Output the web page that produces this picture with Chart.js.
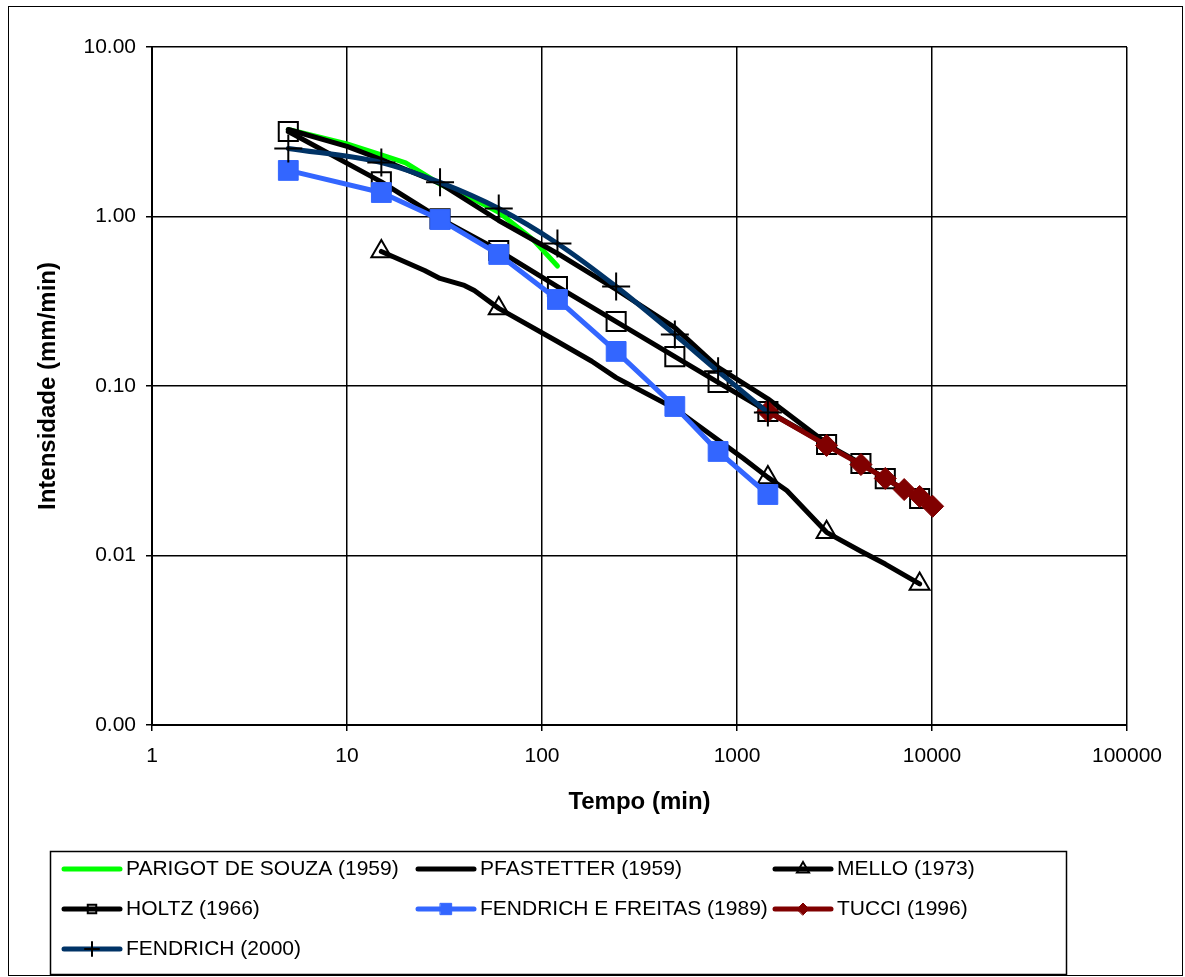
<!DOCTYPE html>
<html>
<head>
<meta charset="utf-8">
<title>Intensidade x Tempo</title>
<script src="https://cdn.jsdelivr.net/npm/chart.js@4.4.0/dist/chart.umd.min.js"></script>
<style>
  body { margin: 0; background: #fff; }
  canvas { display: block; }
</style>
</head>
<body>
<canvas id="idfChart" width="1185" height="977"></canvas>
<script>
// tempo (min) e intensidade (mm/min) de cada equacao
const parigotTempo = [5, 10, 15, 20, 30, 45, 60, 90, 120];
const parigotInt = [3.26, 2.68, 2.31, 2.07, 1.55, 1.26, 1.06, 0.73, 0.51];

const pfastetterTempo = [5, 10, 15, 30, 60, 120, 240, 480, 800, 1440, 2880];
const pfastetterInt = [3.26, 2.59, 2.17, 1.566, 0.947, 0.605, 0.371, 0.221, 0.129, 0.084, 0.046];

const melloTempo = [15, 25, 30, 40, 45, 60, 120, 180, 240, 480, 720, 1080, 1440, 1800, 2880, 4320, 5760, 8640];
const melloInt = [0.622, 0.48, 0.431, 0.392, 0.366, 0.287, 0.183, 0.14, 0.112, 0.0736, 0.0525, 0.0373, 0.0289, 0.0242, 0.0137, 0.0106, 0.0089, 0.0068];
const melloMarcados = [15, 60, 1440, 2880, 8640];

const holtzTempo = [5, 15, 30, 60, 120, 240, 480, 800, 1440, 2880, 4320, 5760, 8640];
const holtzInt = [3.17, 1.6, 0.97, 0.63, 0.386, 0.24, 0.149, 0.105, 0.0707, 0.0452, 0.0349, 0.0284, 0.0217];

const freitasTempo = [5, 15, 30, 60, 120, 240, 480, 800, 1440];
const freitasInt = [1.87, 1.385, 0.96, 0.597, 0.324, 0.16, 0.0757, 0.0411, 0.0229];

const tucciTempo = [1440, 2880, 4320, 5760, 7200, 8640, 10080];
const tucciInt = [0.0707, 0.0446, 0.0344, 0.0285, 0.0245, 0.0223, 0.0195];

const fendrichTempo = [5, 15, 30, 60, 120, 240, 480, 800, 1440];
const fendrichInt = [2.52, 2.08, 1.59, 1.115, 0.693, 0.386, 0.201, 0.122, 0.0698];

// eixos
const xTicks = [1, 10, 100, 1000, 10000, 100000];
const xTickLabels = ['1', '10', '100', '1000', '10000', '100000'];
const yTicks = [0.001, 0.01, 0.1, 1, 10];
const yTickLabels = ['0.00', '0.01', '0.10', '1.00', '10.00'];

const fonte = 'Liberation Sans, Arial, sans-serif';

function pares(tempo, valores) {
    return tempo.map((t, i) => ({ x: t, y: valores[i] }));
}

const datasets = [
    {
        label: 'PARIGOT DE SOUZA (1959)',
        data: pares(parigotTempo, parigotInt),
        borderColor: '#00ff00',
        borderWidth: 5,
        pointRadius: 0,
        legendRadius: 0
    },
    {
        label: 'PFASTETTER (1959)',
        data: pares(pfastetterTempo, pfastetterInt),
        borderColor: '#000000',
        borderWidth: 5,
        pointRadius: 0,
        legendRadius: 0
    },
    {
        label: 'MELLO (1973)',
        data: pares(melloTempo, melloInt),
        borderColor: '#000000',
        borderWidth: 5,
        pointStyle: 'triangle',
        pointRadius: (c) => (c.raw && melloMarcados.includes(c.raw.x)) ? 11.5 : 0,
        pointBackgroundColor: 'rgba(0,0,0,0)',
        pointBorderColor: '#000000',
        pointBorderWidth: 2,
        legendRadius: 7
    },
    {
        label: 'HOLTZ (1966)',
        data: pares(holtzTempo, holtzInt),
        borderColor: '#000000',
        borderWidth: 5,
        pointStyle: 'rect',
        pointRadius: 13.5,
        pointBackgroundColor: 'rgba(0,0,0,0)',
        pointBorderColor: '#000000',
        pointBorderWidth: 2,
        legendRadius: 6
    },
    {
        label: 'FENDRICH E FREITAS (1989)',
        data: pares(freitasTempo, freitasInt),
        borderColor: '#3366ff',
        borderWidth: 5,
        pointStyle: 'rect',
        pointRadius: 14,
        pointBackgroundColor: '#3366ff',
        pointBorderColor: '#3366ff',
        pointBorderWidth: 1,
        legendRadius: 8
    },
    {
        label: 'TUCCI (1996)',
        data: pares(tucciTempo, tucciInt),
        borderColor: '#800000',
        borderWidth: 5,
        pointStyle: 'rectRot',
        pointRadius: 11,
        pointBackgroundColor: '#800000',
        pointBorderColor: '#800000',
        pointBorderWidth: 1,
        legendRadius: 6
    },
    {
        label: 'FENDRICH (2000)',
        data: pares(fendrichTempo, fendrichInt),
        borderColor: '#003366',
        borderWidth: 5,
        cubicInterpolationMode: 'monotone',
        pointStyle: 'cross',
        pointRadius: 14,
        pointBackgroundColor: '#000000',
        pointBorderColor: '#000000',
        pointBorderWidth: 2,
        legendRadius: 7
    }
];

// a ultima serie fica por cima, como no Excel
datasets.forEach((ds, i) => {
    ds.order = datasets.length - i;
    ds.borderJoinStyle = 'round';
    ds.borderCapStyle = 'round';
    ds.fill = false;
});

// fundo e moldura externa
const moldura = {
    id: 'moldura',
    beforeDraw(chart) {
        const c = chart.ctx;
        c.save();
        c.fillStyle = '#fff';
        c.fillRect(0, 0, chart.width, chart.height);
        c.strokeStyle = '#000';
        c.lineWidth = 1;
        c.strokeRect(8.5, 6.5, 1174, 969);
        c.restore();
    }
};

// legenda em tres colunas dentro de uma caixa
const legenda = {
    id: 'legenda',
    afterDraw(chart) {
        const c = chart.ctx;
        const colX = [62, 416, 773];
        const linhaY = [869, 909, 949];
        c.save();
        c.strokeStyle = '#000';
        c.lineWidth = 1.5;
        c.strokeRect(50.5, 851.5, 1016, 123);
        c.font = '21px ' + fonte;
        c.textBaseline = 'middle';
        c.fillStyle = '#000';
        chart.data.datasets.forEach((ds, i) => {
            const x = colX[i % 3];
            const y = linhaY[Math.floor(i / 3)];
            c.strokeStyle = ds.borderColor;
            c.lineWidth = ds.borderWidth;
            c.lineCap = 'round';
            c.beginPath();
            c.moveTo(x + 2, y);
            c.lineTo(x + 58, y);
            c.stroke();
            if (ds.legendRadius > 0) {
                c.fillStyle = ds.pointBackgroundColor;
                c.strokeStyle = ds.pointBorderColor;
                c.lineWidth = ds.pointBorderWidth;
                Chart.helpers.drawPoint(c, {
                    pointStyle: ds.pointStyle,
                    radius: ds.legendRadius,
                    rotation: 0,
                    borderWidth: ds.pointBorderWidth
                }, x + 30, y);
            }
            c.fillStyle = '#000';
            c.fillText(ds.label, x + 64, y);
        });
        c.restore();
    }
};

const ctx = document.getElementById('idfChart').getContext('2d');

const idfChart = new Chart(ctx, {
    type: 'line',
    data: { datasets: datasets },
    plugins: [moldura, legenda],
    options: {
        responsive: false,
        animation: false,
        devicePixelRatio: 1,
        layout: { padding: { top: 47, right: 58, left: 0, bottom: 0 } },
        plugins: {
            legend: { display: false },
            tooltip: { enabled: false }
        },
        scales: {
            x: {
                type: 'logarithmic',
                position: 'bottom',
                min: 1,
                max: 100000,
                afterBuildTicks: (s) => { s.ticks = xTicks.map(v => ({ value: v })); },
                afterFit: (s) => { s.height = 252; },
                ticks: {
                    autoSkip: false,
                    maxRotation: 0,
                    padding: 13,
                    color: '#000',
                    font: { family: fonte, size: 21 },
                    callback: (v) => xTickLabels[xTicks.indexOf(v)]
                },
                grid: { color: '#000', lineWidth: 1.5, tickLength: 6 },
                border: { color: '#000', width: 2 },
                title: {
                    display: true,
                    text: 'Tempo (min)',
                    color: '#000',
                    font: { family: fonte, size: 24, weight: 'bold' },
                    padding: { top: 0, bottom: 160 }
                }
            },
            y: {
                type: 'logarithmic',
                min: 0.001,
                max: 10,
                afterBuildTicks: (s) => { s.ticks = yTicks.map(v => ({ value: v })); },
                afterFit: (s) => { s.width = 152; },
                ticks: {
                    autoSkip: false,
                    padding: 10,
                    color: '#000',
                    font: { family: fonte, size: 21 },
                    callback: (v) => yTickLabels[yTicks.indexOf(v)]
                },
                grid: { color: '#000', lineWidth: 1.5, tickLength: 6 },
                border: { color: '#000', width: 2 },
                title: {
                    display: true,
                    text: 'Intensidade (mm/min)',
                    color: '#000',
                    font: { family: fonte, size: 24, weight: 'bold' },
                    padding: { top: 34, bottom: 0 }
                }
            }
        }
    }
});
</script>
</body>
</html>
